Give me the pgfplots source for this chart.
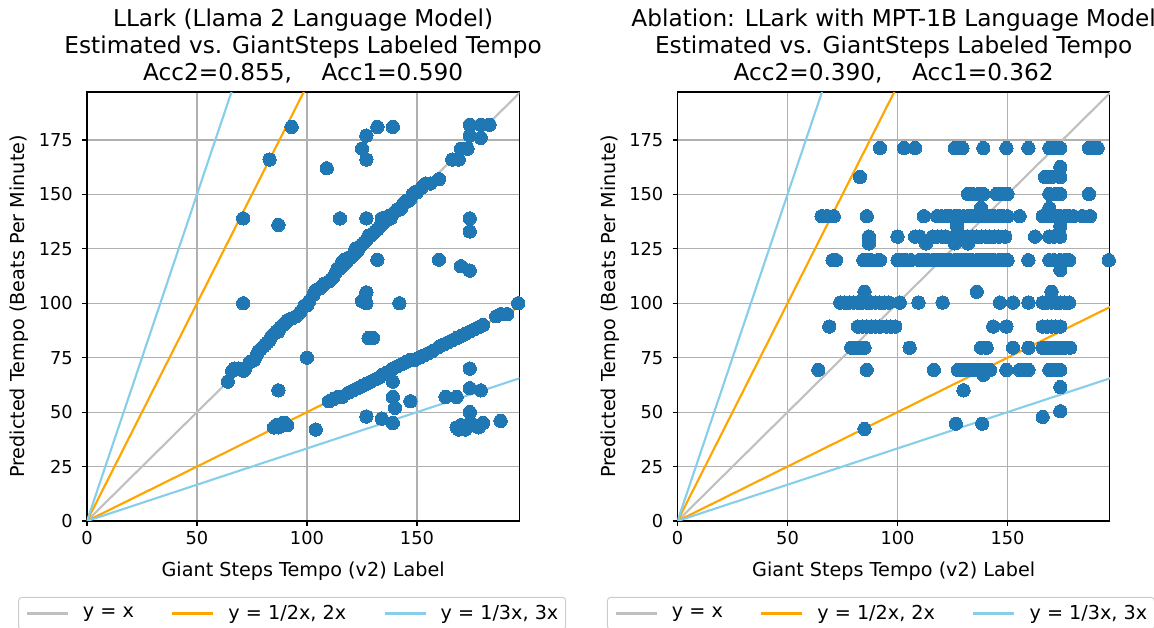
\documentclass[border=0pt]{standalone}
\usepackage{pgfplots}
\pgfplotsset{compat=1.18}
\usepackage{pgfplotstable}
\usepackage{fontspec}
\setmainfont{DejaVu Sans}
\definecolor{c0}{HTML}{1F77B4}
\definecolor{silverl}{HTML}{C0C0C0}
\definecolor{orng}{HTML}{FFA500}
\definecolor{skyb}{HTML}{87CEEB}
\definecolor{gridc}{HTML}{B0B0B0}
\definecolor{legedge}{HTML}{CCCCCC}
\newcommand\tickfont{\fontsize{13.35}{16}\selectfont}
\newcommand\lblfont{\fontsize{14.4}{17}\selectfont}
\newcommand\ttlfont{\fontsize{17.4}{20.25}\selectfont}

\pgfplotstableread{
x y
64 64
66 69
67 70
69 70
71 69
72 70
74 73
76 74
77 76
78 78
79 79
80 80
81 81
82 82
83 83
84 85
85 86
86 87
87 87
88 89
89 90
90 91
91 92
93 93
95 94
97 96
99 99
100 99
101 101
103 104
104 106
106 107
107 108
108 109
110 110
111 111
112 112
113 114
114 116
115 116
116 117
116 119
117 120
118 119
119 121
120 121
121 122
122 123
122 125
123 124
124 126
125 127
126 128
127 129
128 131
129 131
130 132
131 133
132 134
133 135
134 136
135 137
136 138
137 140
138 139
139 141
140 142
141 143
142 143
143 144
144 146
145 147
146 147
147 148
148 150
149 151
150 151
152 153
154 155
156 155
160 157
166 166
169 166
170 171
173 171
174 177
179 176
174 182
179 182
183 182
85 43
86 44
87 43
88 44
89 45
90 45
91 44
104 42
110 55
112 56
114 57
116 57
119 59
121 60
123 61
125 62
127 63
129 64
131 65
133 66
134 67
136 68
138 69
139 70
141 71
143 72
145 73
147 74
149 74
151 75
153 76
155 77
157 78
160 80
162 81
164 82
166 83
168 84
170 85
172 86
174 87
176 88
178 89
180 90
186 94
188 95
191 95
196 100
127 105
125 101
127 100
142 100
128 84
130 84
139 64
139 57
140 52
147 55
127 48
134 47
139 45
174 70
163 57
168 57
174 61
179 60
174 50
168 43
169 42
170 44
172 43
174 45
176 44
178 43
180 45
172 42
188 46
87 60
100 75
71 100
109 162
93 181
83 166
71 139
87 136
132 181
139 181
127 177
125 171
127 166
115 139
127 139
134 139
174 139
174 133
132 120
160 120
170 117
174 115
}\leftdata

\pgfplotstableread{
x y
92 171.3
103 171.3
108 171.3
126 171.3
128 171.3
129.5 171.3
139 171.3
149.5 171.3
159.5 171.3
169 171.3
171 171.3
174 171.3
187 171.3
189 171.3
191 171.3
174 162.6
83 158
167 158
170 158
174 158
132 150.2
134 150.2
137 150.2
139 150.2
145 150.2
147 150.2
150 150.2
169 150.2
172 150.2
174 150.2
187 150.2
138 143.7
169 143.7
65.5 140
68 140
71 140
86 140
112 140
118 140
120 140
122 140
124 140
126 140
128 140
130 140
132 140
134 140
136 140
138 140
140 140
142 140
144 140
146 140
148 140
150 140
155.5 140
166 140
168 140
170 140
172 140
174 140
176 140
178 140
180 140
184 140
187.5 140
127 135.5
174 135.5
87 130.6
100 130.6
108 130.6
110 130.6
116 130.6
118 130.6
120 130.6
122 130.6
126 130.6
128 130.6
130 130.6
132 130.6
134 130.6
136 130.6
138 130.6
140 130.6
142 130.6
144 130.6
146 130.6
149 130.6
162.5 130.6
169 130.6
171 130.6
174 130.6
87 127.5
113 127.5
126 127.5
132 127.5
70.5 119.8
72 119.8
84.5 119.8
86 119.8
88 119.8
91 119.8
92 119.8
100 119.8
102 119.8
104 119.8
106 119.8
110 119.8
112 119.8
114 119.8
116 119.8
118 119.8
120 119.8
122 119.8
124 119.8
126 119.8
128 119.8
130 119.8
132 119.8
134 119.8
136 119.8
138 119.8
140 119.8
142 119.8
144 119.8
146 119.8
148 119.8
150 119.8
159.5 119.8
169 119.8
171 119.8
174 119.8
176 119.8
178 119.8
196 119.8
174 115.3
85 105.3
136 105.3
170 105.3
74 100.3
76 100.3
78 100.3
80 100.3
82 100.3
84 100.3
86 100.3
88 100.3
90 100.3
92 100.3
94 100.3
96 100.3
101 100.3
109.5 100.3
120.5 100.3
146.5 100.3
152.5 100.3
159.5 100.3
166 100.3
168 100.3
170 100.3
172 100.3
174 100.3
176 100.3
178 100.3
69 89.3
82 89.3
84 89.3
86 89.3
88 89.3
90 89.3
92 89.3
95 89.3
97 89.3
99 89.3
143.5 89.3
149.5 89.3
166 89.3
168 89.3
170 89.3
172 89.3
174 89.3
79 79.6
81 79.6
83 79.6
85 79.6
105.5 79.6
138 79.6
140.5 79.6
152.5 79.6
159.5 79.6
166 79.6
168 79.6
170 79.6
172 79.6
174 79.6
176 79.6
178.5 79.6
64 69.4
86 69.4
116.5 69.4
127.5 69.4
130 69.4
132 69.4
134 69.4
136 69.4
138 69.4
140 69.4
142 69.4
149.5 69.4
155.5 69.4
157.5 69.4
159.5 69.4
169 69.4
171 69.4
174 69.4
139 67.1
130 60
174 61.5
174 50.4
166 47.8
126.5 44.7
138.5 44.7
85 42.3
}\rightdata

\pgfplotsset{
  tempo/.style={
    set layers,
    width=324.2pt, height=321.7pt, scale only axis,
    anchor=south west,
    xmin=0, xmax=196.5, ymin=0, ymax=197,
    xtick={0,50,100,150}, ytick={0,25,50,75,100,125,150,175},
    grid=major, major grid style={gridc, line width=0.86pt},
    axis line style={line width=0.86pt},
    tick style={black, line width=0.86pt},
    tick align=outside, major tick length=3.75pt,
    tick pos=left,
    /pgf/number format/assume math mode=true,
    tick label style={font=\tickfont, inner sep=0pt},
    yticklabel style={anchor=east, xshift=-6.75pt},
    xticklabel style={anchor=north, yshift=-3.75pt},
    xlabel style={font=\lblfont, at={([yshift=-42pt]axis description cs:0.5,0)}, anchor=base, inner sep=0pt},
    ylabel style={font=\lblfont, at={([xshift=-46.5pt]axis description cs:0,0.5)}, anchor=base, inner sep=0pt},
    xlabel={Giant Steps Tempo (v2) Label},
    ylabel={Predicted Tempo (Beats Per Minute)},
    title style={font=\ttlfont, align=center, at={([yshift=0.75pt]axis description cs:0.5,1)}, anchor=south, inner sep=0pt},
    legend style={anchor=center, legend columns=3, draw=legedge, rounded corners=2.5pt,
      line width=0.75pt, font=\lblfont, inner xsep=5.5pt, inner ysep=6pt,
      nodes={inner sep=0pt},
      /tikz/every odd column/.append style={column sep=10.5pt},
      /tikz/every even column/.append style={column sep=28pt}},
    legend cell align=left,
    legend image code/.code={\draw[##1, line width=1.6pt] (0pt,0pt) -- (30.75pt,0pt);},
  },
  scat/.style={only marks, mark=*, mark size=5pt, color=c0, mark options={fill=c0, draw=c0, line width=0pt}, on layer=axis background, forget plot},
}

\begin{document}
\begin{tikzpicture}
\begin{axis}[tempo, at={(0pt,0pt)},
  title={LLark (Llama 2 Language Model)\\Estimated vs. GiantSteps Labeled Tempo\\Acc2=0.855,\hspace{0.954em} Acc1=0.590},
  legend style={at={(axis description cs:0.4745,-0.2157)}}]
\addplot[scat] table[x=x,y=y] {\leftdata};
\addplot[silverl, line width=1.6pt] coordinates {(0,0) (200,200)};
\addlegendentry{y = x}
\addplot[orng, line width=1.6pt] coordinates {(0,0) (200,100)};
\addlegendentry{y = 1/2x, 2x}
\addplot[orng, line width=1.6pt, forget plot] coordinates {(0,0) (100,200)};
\addplot[skyb, line width=1.6pt] coordinates {(0,0) (200,66.667)};
\addlegendentry{y = 1/3x, 3x}
\addplot[skyb, line width=1.6pt, forget plot] coordinates {(0,0) (66.667,200)};
\end{axis}
\begin{axis}[tempo, at={(442.9pt,0pt)},
  title={Ablation: LLark with MPT-1B Language Model\\Estimated vs. GiantSteps Labeled Tempo\\Acc2=0.390,\hspace{0.954em} Acc1=0.362},
  legend style={at={(axis description cs:0.4707,-0.2157)}}]
\addplot[scat] table[x=x,y=y] {\rightdata};
\addplot[silverl, line width=1.6pt] coordinates {(0,0) (200,200)};
\addlegendentry{y = x}
\addplot[orng, line width=1.6pt] coordinates {(0,0) (200,100)};
\addlegendentry{y = 1/2x, 2x}
\addplot[orng, line width=1.6pt, forget plot] coordinates {(0,0) (100,200)};
\addplot[skyb, line width=1.6pt] coordinates {(0,0) (200,66.667)};
\addlegendentry{y = 1/3x, 3x}
\addplot[skyb, line width=1.6pt, forget plot] coordinates {(0,0) (66.667,200)};
\end{axis}
\pgfresetboundingbox
\path[use as bounding box] (-65.25pt,-80.25pt) rectangle (800.25pt,390.75pt);
\end{tikzpicture}
\end{document}
